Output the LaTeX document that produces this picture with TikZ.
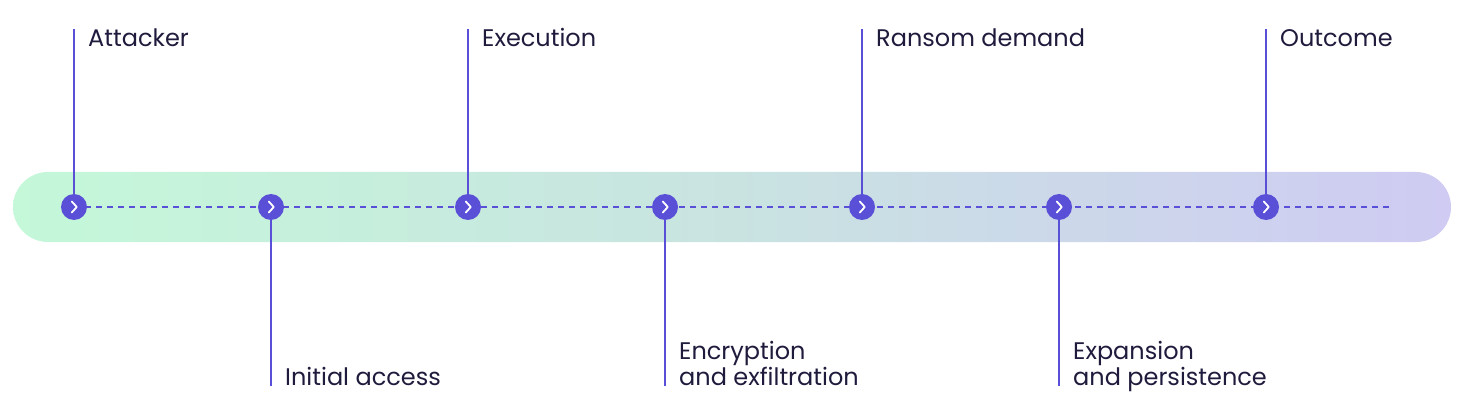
\documentclass[tikz,border=0pt]{standalone}
\usepackage{fontspec}
\setmainfont{Poppins}
\usetikzlibrary{calc}
\definecolor{lineblue}{HTML}{5A50D8}
\definecolor{txt}{HTML}{1E1B3C}
\definecolor{mint}{HTML}{C4F8D9}
\definecolor{midc}{HTML}{C9E3E1}
\definecolor{lav}{HTML}{CFCBF3}
\tikzset{
  stepdot/.style={circle,fill=lineblue,minimum size=26pt,inner sep=0pt},
  stem/.style={draw=lineblue,line width=2pt},
  lbl/.style={text=txt,font=\fontsize{24}{24}\selectfont,inner sep=0pt,align=left},
  chev/.style={draw=white,line width=1.8pt,line cap=round,line join=round},
}
\begin{document}
\begin{tikzpicture}[x=1pt,y=-1pt]
\useasboundingbox (0,0) rectangle (1464,414);
\shade[left color=mint,right color=lav,middle color=midc,rounded corners=35pt] (13,172) rectangle (1451,242);
\draw[lineblue,line width=2pt,dash pattern=on 6pt off 5pt] (74,207) -- (1390,207);
\foreach \n/\x in {1/74,2/271,3/468,4/665,5/862,6/1059,7/1266}{
  \node[stepdot] (c\n) at (\x,207) {};
  \draw[chev] ($(c\n)+(-2.2,-5.5)$) -- ($(c\n)+(2.8,0)$) -- ($(c\n)+(-2.2,5.5)$);
}
\foreach \n/\x in {1/74,3/468,5/862,7/1266}{
  \coordinate (t\n) at (\x,29);
  \draw[stem] (t\n) -- (c\n.north);
}
\foreach \n/\x in {2/271,4/665,6/1059}{
  \coordinate (b\n) at (\x,386);
  \draw[stem] (c\n.south) -- (b\n);
}
\node[lbl,anchor=base west] (l1) at (88,47) {Attacker};
\node[lbl,anchor=base west] (l3) at (482,47) {Execution};
\node[lbl,anchor=base west] (l5) at (876,47) {Ransom demand};
\node[lbl,anchor=base west] (l7) at (1280,47) {Outcome};
\node[lbl,anchor=base west] (l2) at (285,385) {Initial access};
\node[lbl,anchor=base west] (l4) at (679,385) {Encryption\\and exfiltration};
\node[lbl,anchor=base west] (l6) at (1073,385) {Expansion\\and persistence};
\end{tikzpicture}
\end{document}
